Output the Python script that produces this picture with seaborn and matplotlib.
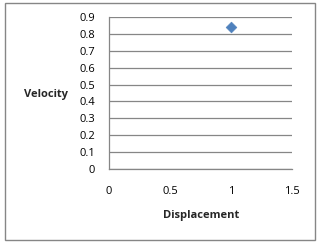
import numpy as np
import pandas as pd
import seaborn as sns
import matplotlib.pyplot as plt
from matplotlib.patches import Rectangle

# data
displacement = [1.0]
velocity = [0.84]
x_ticks = [0, 0.5, 1, 1.5]
y_ticks = [0, 0.1, 0.2, 0.3, 0.4, 0.5, 0.6, 0.7, 0.8, 0.9]

df = pd.DataFrame({'Displacement': displacement, 'Velocity': velocity})

sns.set_style('white')
plt.rcParams['font.family'] = ['Open Sans', 'DejaVu Sans']

fig = plt.figure(figsize=(3.21, 2.45), dpi=100)
ax = fig.add_axes([109 / 321, 1 - 169 / 245, 183 / 321, 152 / 245])

sns.scatterplot(data=df, x='Displacement', y='Velocity', marker='D', s=30,
                color='#4F81BD', edgecolor='#4F81BD', ax=ax, zorder=3)

ax.set_xlim(0, 1.5)
ax.set_ylim(0, 0.9)
ax.set_xticks(x_ticks)
ax.set_xticklabels(['0', '0.5', '1', '1.5'])
ax.set_yticks(y_ticks)
ax.set_yticklabels(['0', '0.1', '0.2', '0.3', '0.4', '0.5', '0.6', '0.7', '0.8', '0.9'])
ax.yaxis.grid(True, color='#868686', linewidth=0.9)
ax.xaxis.grid(False)

for side in ['top', 'right']:
    ax.spines[side].set_visible(False)
for side in ['left', 'bottom']:
    ax.spines[side].set_color('#868686')
    ax.spines[side].set_linewidth(0.9)

ax.tick_params(axis='both', direction='out', length=3, width=0.9, color='#868686',
               labelsize=8, labelcolor='black')
ax.tick_params(axis='y', pad=7)
ax.tick_params(axis='x', pad=9)

ax.set_xlabel('')
ax.set_ylabel('')
fig.text(201 / 321, 1 - 215 / 245, 'Displacement', ha='center', va='center',
         fontsize=8, fontweight='bold')
fig.text(46 / 321, 1 - 95 / 245, 'Velocity', ha='center', va='center',
         fontsize=8, fontweight='bold')

fig.patches.append(Rectangle((5 / 321, 1 - 240 / 245), 310 / 321, 237 / 245,
                             transform=fig.transFigure, fill=False,
                             edgecolor='#868686', linewidth=1))

fig.savefig('out.png', dpi=100)
